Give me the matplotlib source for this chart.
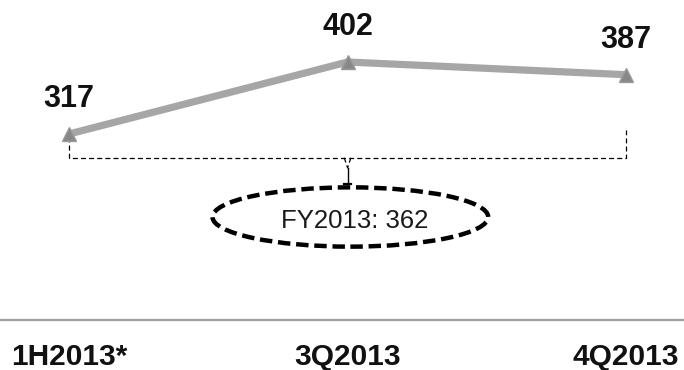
import matplotlib
matplotlib.use('Agg')
import matplotlib.pyplot as plt
from matplotlib.patches import Ellipse

plt.rcParams['font.family'] = ['Liberation Sans', 'DejaVu Sans']

# Quarterly figures and the full-year average
periods = ['1H2013*', '3Q2013', '4Q2013']
values = [317, 402, 387]
fy_label = 'FY2013'
fy_value = 362

x = list(range(len(values)))

fig = plt.figure(figsize=(6.84, 3.70), dpi=100)
ax = fig.add_axes([0, 50 / 370, 1, 320 / 370])
ax.set_xlim(-0.248, 2.208)
ax.set_ylim(97.4, 475.2)

# Main line with triangle markers
ax.plot(x, values, color='#a6a6a6', lw=5.2, solid_capstyle='butt', zorder=2)
ax.plot(x, values, ls='none', marker='^', ms=10, color='#888888',
        mec='#9a9a9a', zorder=3)

# Value labels above each point
for xi, v in zip(x, values):
    ax.annotate(str(v), xy=(xi, v), xytext=(0, 19.5), textcoords='offset points',
                ha='center', va='baseline', fontsize=22, fontweight='bold',
                color='#111111')

# Dashed bracket grouping the three periods
br_y = 289
dash_thin = dict(color='black', lw=0.9, ls=(0, (4, 2.5)))
ax.plot([x[0], x[0], x[-1], x[-1]], [values[0] - 4, br_y, br_y, 322], **dash_thin)
# small notch in the middle of the bracket leading to the ellipse
mid = (x[0] + x[-1]) / 2
ax.plot([mid - 0.012, mid, mid + 0.012], [br_y, br_y - 12, br_y], **dash_thin)
ax.plot([mid, mid], [br_y - 12, 258], color='black', lw=1.0)
ax.plot([mid - 0.012, mid + 0.012], [258, 258], color='black', lw=1.6)

# Dashed ellipse with the full-year value
ell = Ellipse((mid + 0.01, 219), width=0.99, height=70, fill=False,
              ec='black', lw=3.2, ls=(0, (2.8, 1.3)), zorder=4)
ax.add_patch(ell)
ax.text(mid + 0.025, 214, f'{fy_label}: {fy_value}', ha='center', va='center',
        fontsize=18.5, color='#1a1a1a')

# Bottom axis line and category labels
for s in ['top', 'right', 'left']:
    ax.spines[s].set_visible(False)
ax.spines['bottom'].set_color('#a0a0a0')
ax.spines['bottom'].set_linewidth(1.6)
ax.set_xticks([])
ax.set_yticks([])
for xi, lab in zip(x, periods):
    ax.annotate(lab, xy=(xi, 0), xycoords=('data', 'axes fraction'),
                xytext=(0, -32.5), textcoords='offset points', ha='center',
                va='baseline', fontsize=21.5, fontweight='bold', color='#111111',
                annotation_clip=False)

fig.savefig('out.png', dpi=100)
